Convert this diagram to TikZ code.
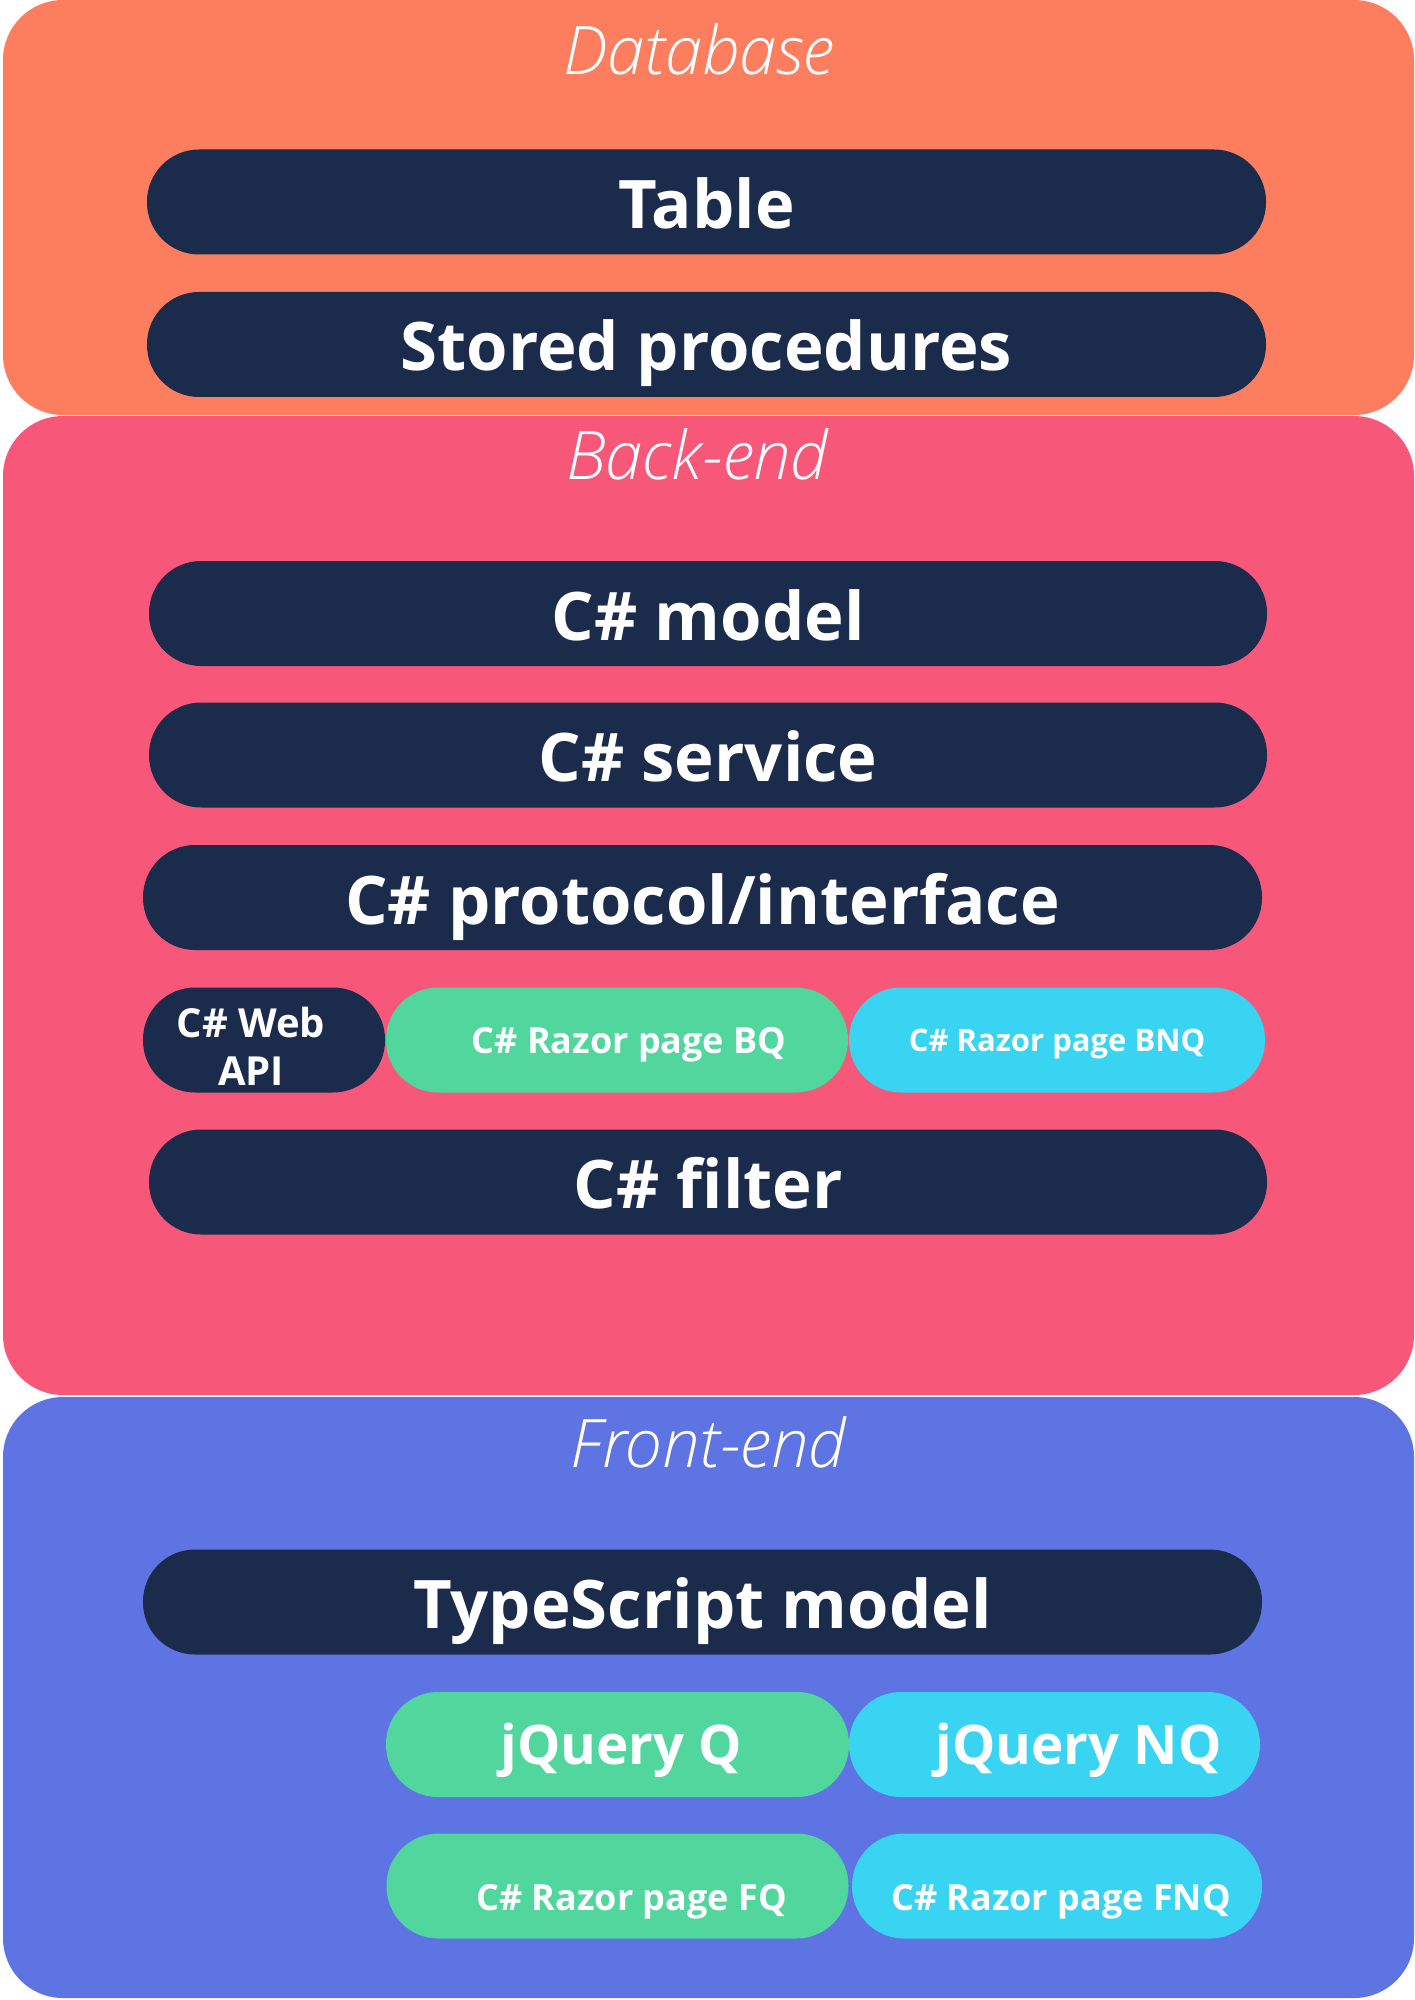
\documentclass[tikz,border=0pt]{standalone}
\usepackage{fontspec}
\setmainfont{Open Sans}
\newfontfamily\titlefont{Open Sans Light}
\definecolor{dbcol}{HTML}{FC7E5F}
\definecolor{becol}{HTML}{F7587A}
\definecolor{fecol}{HTML}{5F74E3}
\definecolor{navy}{HTML}{1A2B4C}
\definecolor{qgreen}{HTML}{51D69D}
\definecolor{nqcyan}{HTML}{39D4F2}
\begin{document}
\begin{tikzpicture}[x=0.5pt, y=-0.5pt,
    layer/.style={fill=#1, rounded corners=30pt, inner sep=0pt, outer sep=0pt, minimum width=705.5pt},
    ltitle/.style={text=white, inner sep=0pt, text height=26pt, text depth=0pt,
        font=\titlefont\itshape\fontsize{33.5}{40}\selectfont},
    pill/.style={fill=#1, rounded corners=26pt, inner sep=0pt, minimum height=52.5pt,
        text=white, text height=26.5pt, text depth=0pt, font=\bfseries\fontsize{33.5}{40}\selectfont},
    small/.style={text height=13pt, font=\bfseries\fontsize{18}{22}\selectfont},
    lowsmall/.style={text height=24pt, font=\bfseries\fontsize{18}{22}\selectfont},
    mid/.style={text height=19.5pt, font=\bfseries\fontsize{27.3}{33}\selectfont}]
    \useasboundingbox (0,0) rectangle (1414,2000);

    % layers
    \node [layer=dbcol, minimum height=207.5pt] (db) at (708.5,207.5) {};
    \node [layer=becol, minimum height=489.5pt] (back) at (708.5,905.5) {};
    \node [layer=fecol, minimum height=300.5pt] (front) at (708.5,1697.5) {};

    \node [ltitle] (dbtitle) at (699,49) {Database};
    \node [ltitle] (betitle) at (697,454) {Back-end};
    \node [ltitle] (fetitle) at (708,1441) {Front-end};

    % database
    \node [pill=navy, minimum width=559.5pt] (table) at (706.5,202) {Table};
    \node [pill=navy, minimum width=559.5pt] (procs) at (706.5,344.5) {Stored procedures};

    % back-end
    \node [pill=navy, minimum width=559pt] (model) at (708,613.5) {C\# model};
    \node [pill=navy, minimum width=559pt] (service) at (708,755) {C\# service};
    \node [pill=navy, minimum width=559.5pt] (proto) at (702.5,897.5) {C\# protocol/interface};
    \node [pill=navy, minimum width=121pt, align=center, text height=, text depth=,
        font=\bfseries\fontsize{20}{24}\selectfont] (webapi) at (264,1040)
        {\rule{0pt}{21.5pt}C\# Web\hspace*{13pt}\\API\hspace*{13pt}};
    \node [pill=qgreen, small, minimum width=231pt] (razorbq) at (617,1040) {\hspace*{12pt}C\# Razor page BQ};
    \node [pill=nqcyan, small, minimum width=208pt, font=\bfseries\fontsize{15.5}{19}\selectfont, text height=11pt] (razorbnq) at (1057,1040) {C\# Razor page BNQ};
    \node [pill=navy, minimum width=559pt] (filter) at (708,1182) {C\# filter};

    % front-end
    \node [pill=navy, minimum width=559.5pt] (tsmodel) at (702.5,1602) {TypeScript model};
    \node [pill=qgreen, mid, minimum width=231.5pt] (jqq) at (617.5,1744.5) {\hspace*{4pt}jQuery Q};
    \node [pill=nqcyan, mid, minimum width=205.5pt] (jqnq) at (1054.5,1744.5) {\hspace*{24pt}jQuery NQ};
    \node [pill=qgreen, lowsmall, minimum width=231pt] (razorfq) at (617.5,1886) {\hspace*{14pt}C\# Razor page FQ};
    \node [pill=nqcyan, lowsmall, minimum width=205pt] (razorfnq) at (1057,1886) {\hspace*{4pt}C\# Razor page FNQ};
\end{tikzpicture}
\end{document}
